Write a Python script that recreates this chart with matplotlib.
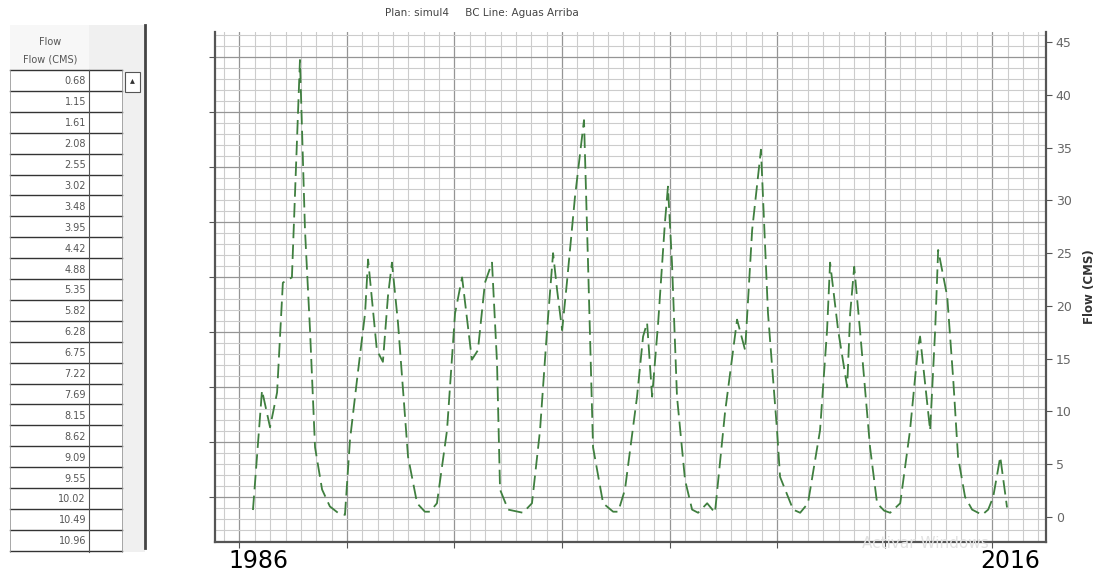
import matplotlib.pyplot as plt
from matplotlib.ticker import MultipleLocator, NullFormatter
from matplotlib.patches import Rectangle
from matplotlib.lines import Line2D
from matplotlib.transforms import Affine2D

W, H = 1105, 575

# flow hydrograph (decimal year, CMS)
years = [1986.00, 1986.36, 1986.68, 1986.96, 1987.19, 1987.55, 1987.87, 1988.07,
         1988.27, 1988.47, 1988.75, 1989.06, 1989.38, 1989.66, 1989.86, 1990.14,
         1990.46, 1990.58, 1990.93, 1991.17, 1991.37, 1991.53, 1991.77, 1992.17,
         1992.53, 1992.84, 1993.04, 1993.32, 1993.72, 1994.04, 1994.32, 1994.71,
         1994.95, 1995.23, 1995.51, 1995.71, 1995.83, 1996.15, 1996.74, 1997.10,
         1997.42, 1997.70, 1997.94, 1998.10, 1998.30, 1998.49, 1998.81, 1999.17,
         1999.33, 1999.53, 1999.93, 2000.33, 2000.53, 2000.80, 2001.28, 2001.52,
         2001.68, 2001.88, 2002.12, 2002.39, 2002.51, 2002.67, 2002.87, 2003.19,
         2003.47, 2003.71, 2004.07, 2004.38, 2004.78, 2005.26, 2005.58, 2005.86,
         2006.21, 2006.49, 2006.85, 2006.97, 2007.49, 2007.77, 2008.08, 2008.56,
         2008.84, 2008.96, 2009.28, 2009.64, 2009.76, 2009.92, 2010.15, 2010.55,
         2010.83, 2011.11, 2011.35, 2011.75, 2012.14, 2012.46, 2012.54, 2012.94,
         2013.14, 2013.26, 2013.62, 2013.86, 2014.05, 2014.33, 2014.61, 2015.01,
         2015.25, 2015.45, 2015.73, 2016.00]
flow = [0.66, 12.0, 8.5, 11.8, 22.2, 22.7, 43.3, 27.2,
        17.7, 6.6, 2.6, 1.0, 0.4, 0.2, 7.3, 13.0,
        19.3, 24.4, 15.8, 14.7, 20.9, 24.1, 18.4, 5.7,
        1.3, 0.5, 0.5, 1.3, 8.2, 19.3, 22.7, 14.9,
        15.8, 22.2, 24.1, 14.6, 2.6, 0.7, 0.4, 1.3,
        8.2, 17.7, 25.0, 21.5, 17.7, 22.2, 30.3, 37.6,
        24.1, 6.6, 1.3, 0.5, 0.5, 2.6, 11.4, 17.1,
        18.4, 11.4, 18.4, 27.9, 31.3, 24.1, 11.4, 3.5,
        0.7, 0.4, 1.3, 0.4, 9.9, 18.7, 15.8, 27.2,
        34.8, 19.3, 8.2, 3.8, 0.7, 0.4, 1.3, 8.2,
        17.7, 24.1, 17.7, 12.3, 19.3, 23.7, 17.7, 6.6,
        1.3, 0.6, 0.4, 1.3, 8.2, 16.1, 17.1, 8.2,
        17.7, 25.3, 20.9, 13.0, 5.7, 1.9, 0.7, 0.2,
        0.7, 1.9, 5.7, 0.9]

table_flow = ['0.68', '1.15', '1.61', '2.08', '2.55', '3.02', '3.48', '3.95',
              '4.42', '4.88', '5.35', '5.82', '6.28', '6.75', '7.22', '7.69',
              '8.15', '8.62', '9.09', '9.55', '10.02', '10.49', '10.96']

flow_ticks = [0, 5, 10, 15, 20, 25, 30, 35, 40, 45]

fig = plt.figure(figsize=(W / 100, H / 100), dpi=100)
fig.patch.set_facecolor('white')
px = Affine2D().scale(1 / W, -1 / H).translate(0, 1) + fig.transFigure

# ---- table panel on the left ----
fig.add_artist(Rectangle((10, 25), 135, 45, transform=px, fc='#f0f0f0', ec='none'))
fig.add_artist(Rectangle((10, 25), 79, 45, transform=px, fc='#f7f7f7', ec='none'))
fig.add_artist(Rectangle((122, 70), 23, 482, transform=px, fc='#f0f0f0', ec='none'))
fig.add_artist(Rectangle((125, 72), 15, 20, transform=px, fc='white', ec='#555555', lw=0.8))
fig.text(132.5 / W, 1 - 80 / H, '\u25b4', ha='center', va='center', fontsize=7, color='#333333')
fig.add_artist(Line2D([145, 145], [25, 548], transform=px, color='#444444', lw=2))
fig.text(50 / W, 1 - 42 / H, 'Flow', ha='center', va='center', fontsize=7, color='#555555')
fig.text(50 / W, 1 - 59 / H, 'Flow (CMS)', ha='center', va='center', fontsize=7, color='#555555')
row_h = 20.9
for i, val in enumerate(table_flow):
    top = 70 + i * row_h
    fig.add_artist(Line2D([10, 122], [top, top], transform=px, color='#333333', lw=1))
    fig.text(86 / W, 1 - (top + row_h / 2 + 1) / H, val, ha='right', va='center',
             fontsize=7, color='#555555')
fig.add_artist(Line2D([10, 122], [70 + 23 * row_h] * 2, transform=px, color='#333333', lw=1))
fig.add_artist(Line2D([10, 10], [70, 552], transform=px, color='#999999', lw=0.6))
fig.add_artist(Line2D([89, 89], [70, 552], transform=px, color='#555555', lw=0.8))
fig.add_artist(Line2D([122, 122], [70, 552], transform=px, color='#999999', lw=0.6))

# ---- plot ----
x0, x1 = 1984.49, 2017.55
ax_g = fig.add_axes([215 / W, 1 - 542 / H, (1046 - 215) / W, (542 - 32) / H])
ax_g.set_xlim(x0, x1)
ax_g.set_ylim(-0.818, 8.455)
ax_g.xaxis.set_major_locator(MultipleLocator(4.278, offset=1989.74 % 4.278))
ax_g.xaxis.set_minor_locator(MultipleLocator(4.278 / 7, offset=1989.74 % (4.278 / 7)))
ax_g.yaxis.set_major_locator(MultipleLocator(1))
ax_g.yaxis.set_minor_locator(MultipleLocator(0.2))
ax_g.xaxis.set_major_formatter(NullFormatter())
ax_g.yaxis.set_major_formatter(NullFormatter())
ax_g.grid(which='major', color='#959595', lw=0.9)
ax_g.grid(which='minor', color='#cccccc', lw=0.8)
ax_g.tick_params(which='major', direction='out', length=4, color='#555555')
ax_g.tick_params(which='minor', length=0)
ax_g.tick_params(axis='y', right=False)
for s in ['left', 'bottom', 'right']:
    ax_g.spines[s].set_color('#555555')
    ax_g.spines[s].set_linewidth(1.6)
ax_g.spines['top'].set_visible(False)

ax = ax_g.twinx()
ax.set_xlim(x0, x1)
ax.set_ylim(-2.37, 45.95)
ax.plot(years, flow, color='#3f7f3f', lw=1.3, dashes=(8, 3.5))
ax.set_yticks(flow_ticks)
ax.tick_params(axis='y', direction='out', length=4, color='#555555',
               labelcolor='#666666', labelsize=9, pad=3)
ax.set_ylabel('Flow (CMS)', fontsize=8.5, fontweight='bold', color='#333333', labelpad=8)
for s in ax.spines.values():
    s.set_visible(False)

fig.text(482 / W, 1 - 13 / H, 'Plan: simul4     BC Line: Aguas Arriba', ha='center',
         va='center', fontsize=7.5, color='#444444')
fig.text(925 / W, 1 - 544 / H, 'Activar Windows', ha='center', va='center',
         fontsize=11, color='#e2e2e2')
fig.text(258 / W, 1 - 561 / H, '1986', ha='center', va='center', fontsize=17, color='black')
fig.text(1010 / W, 1 - 561 / H, '2016', ha='center', va='center', fontsize=17, color='black')

plt.savefig('out.png', dpi=100)
